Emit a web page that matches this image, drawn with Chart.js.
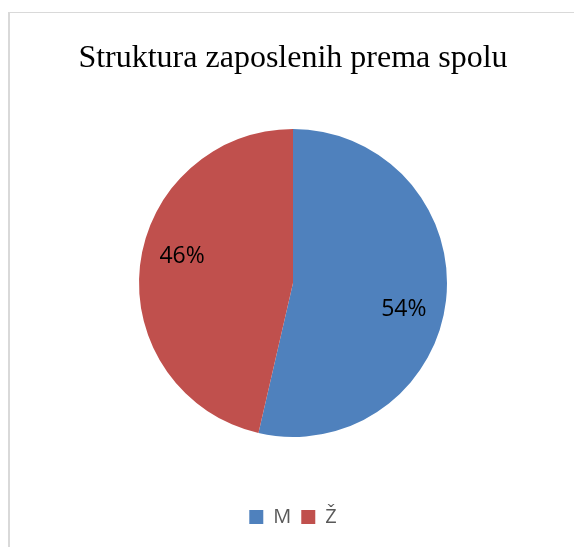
<!DOCTYPE html>
<html>
<head>
<meta charset="utf-8">
<script src="https://cdn.jsdelivr.net/npm/chart.js@4.4.1/dist/chart.umd.min.js"></script>
<style>
  html, body { margin: 0; padding: 0; background: #fff; overflow: hidden; }
  #okvir {
    position: absolute; left: 8px; top: 12px; width: 600px; height: 600px;
    border-left: 2px solid #d9d9d9; border-top: 1px solid #d9d9d9;
  }
  #wrap { position: absolute; left: 0; top: 0; width: 574px; height: 547px; }
</style>
</head>
<body>
<div id="okvir"></div>
<div id="wrap"><canvas id="graf"></canvas></div>
<script>
// podaci
const kategorije = ['M', 'Ž'];
const udjeli = [53.6, 46.4];
const boje = ['#4f81bd', '#c0504d'];
const naslov = 'Struktura zaposlenih prema spolu';

// postotci na kriskama
const oznakePostotaka = {
  id: 'oznakePostotaka',
  afterDatasetsDraw(chart) {
    const ctx = chart.ctx;
    const meta = chart.getDatasetMeta(0);
    const ukupno = udjeli.reduce((a, b) => a + b, 0);
    ctx.save();
    ctx.font = '23px "Open Sans", sans-serif';
    ctx.fillStyle = '#000';
    ctx.textAlign = 'center';
    ctx.textBaseline = 'middle';
    meta.data.forEach((arc, i) => {
      const { x, y, startAngle, endAngle, outerRadius } = arc.getProps(['x', 'y', 'startAngle', 'endAngle', 'outerRadius'], true);
      const kut = (startAngle + endAngle) / 2 + 0.12;
      const r = outerRadius * 0.74;
      const txt = Math.round(udjeli[i] / ukupno * 100) + '%';
      ctx.fillText(txt, x + Math.cos(kut) * r, y + Math.sin(kut) * r);
    });
    ctx.restore();
  }
};

const ctx = document.getElementById('graf').getContext('2d');
new Chart(ctx, {
  type: 'pie',
  data: {
    labels: kategorije,
    datasets: [{
      data: udjeli,
      backgroundColor: boje,
      borderWidth: 0
    }]
  },
  options: {
    responsive: true,
    maintainAspectRatio: false,
    animation: false,
    layout: { padding: { left: 12, right: 0, top: 0, bottom: 10 } },
    plugins: {
      title: {
        display: true,
        text: naslov,
        color: '#000',
        font: { family: '"Liberation Serif", "Times New Roman", serif', size: 32, weight: 'normal', lineHeight: 1.2 },
        padding: { top: 39, bottom: 51.6 }
      },
      legend: {
        position: 'bottom',
        title: { display: true, text: ' ', font: { size: 10, lineHeight: 1 }, padding: 25 },
        labels: {
          boxWidth: 14,
          boxHeight: 14,
          color: '#595959',
          padding: 10,
          font: { family: '"Open Sans", sans-serif', size: 20 }
        }
      },
      tooltip: { enabled: false }
    }
  },
  plugins: [oznakePostotaka]
});
</script>
</body>
</html>
